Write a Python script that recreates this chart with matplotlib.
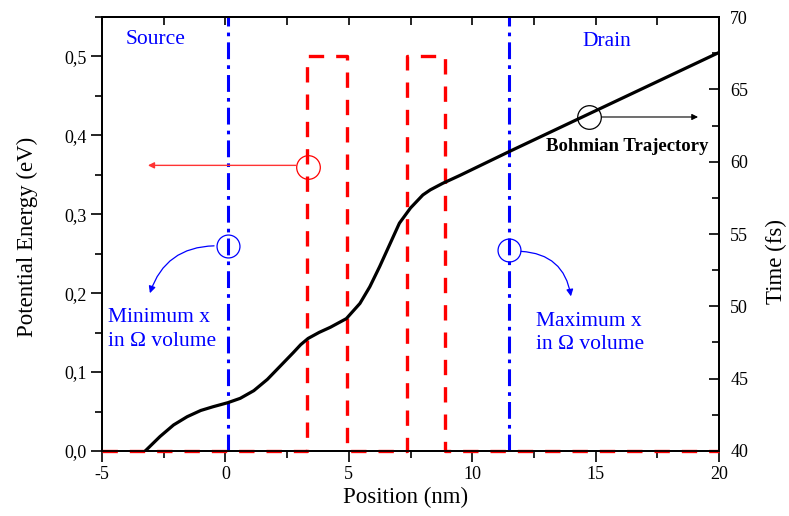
import matplotlib
matplotlib.use("Agg")
import matplotlib.pyplot as plt
from matplotlib.ticker import MultipleLocator, FuncFormatter

plt.rcParams['font.family'] = ['Liberation Serif', 'DejaVu Serif']
plt.rcParams['axes.unicode_minus'] = False

# potential profile (double barrier), eV
pot_x = [-5, 3.3, 3.3, 4.93, 4.93, 7.35, 7.35, 8.9, 8.9, 20]
pot_e = [0, 0, 0.5, 0.5, 0, 0, 0.5, 0.5, 0, 0]

# bohmian trajectory: position (nm) vs time (fs)
traj_x = [-3.25, -2.65, -2.1, -1.55, -1.0, -0.5, 0.1, 0.6, 1.15, 1.7, 2.2,
          2.75, 3.05, 3.35, 3.8, 4.25, 4.9, 5.45, 5.85, 6.25, 6.65, 7.05, 7.5,
          8.0, 8.3, 8.8, 9.5, 11.5, 14.6, 20.0]
traj_t = [40.0, 41.0, 41.8, 42.37, 42.8, 43.06, 43.34, 43.64, 44.17, 44.95, 45.83,
          46.8, 47.35, 47.78, 48.2, 48.55, 49.15, 50.2, 51.35, 52.75, 54.25, 55.75, 56.8,
          57.7, 58.05, 58.5, 59.05, 60.7, 63.2, 67.55]

# limits of the omega volume
x_min_omega = 0.1
x_max_omega = 11.5

fig = plt.figure(figsize=(7.89, 5.16), dpi=100)
ax = fig.add_axes([0.1293, 0.126, 0.782, 0.841])
ax2 = ax.twinx()

ax.plot(pot_x, pot_e, color='#ff0000', lw=2.4, ls=(0, (4.6, 3.6)), zorder=6, clip_on=False)
ax.axvline(x_min_omega, color='#0000ff', lw=2.2, ls=(0, (5.5, 2, 1.2, 2)), zorder=3)
ax.axvline(x_max_omega, color='#0000ff', lw=2.2, ls=(0, (5.5, 2, 1.2, 2)), zorder=3)
ax2.plot(traj_x, traj_t, color='black', lw=2.3, solid_capstyle='round',
         solid_joinstyle='round')

ax.set_xlim(-5, 20)
ax.set_ylim(0, 0.55)
ax2.set_ylim(40, 70)

# ticks
ax.xaxis.set_major_locator(MultipleLocator(5))
ax.xaxis.set_minor_locator(MultipleLocator(2.5))
ax.yaxis.set_major_locator(MultipleLocator(0.1))
ax.yaxis.set_minor_locator(MultipleLocator(0.05))
ax.yaxis.set_major_formatter(FuncFormatter(lambda v, p: ('%.1f' % v).replace('.', ',')))
ax.tick_params(which='major', direction='out', length=8, width=1.2, labelsize=13, pad=3)
ax.tick_params(which='minor', direction='out', length=5, width=1.2)
ax.tick_params(axis='y', right=False)

top = ax.secondary_xaxis('top')
top.xaxis.set_major_locator(MultipleLocator(2.5))
top.tick_params(direction='in', length=6, width=1.2, labeltop=False)

ax2.yaxis.set_major_locator(MultipleLocator(5))
ax2.yaxis.set_minor_locator(MultipleLocator(2.5))
ax2.tick_params(which='major', direction='in', length=7, width=1.2, labelsize=13, pad=8)
ax2.tick_params(which='minor', direction='in', length=5, width=1.2)

for a in (ax, ax2):
    for s in a.spines.values():
        s.set_linewidth(1.3)
top.spines['top'].set_linewidth(1.3)

fig.text(406 / 789, 1 - 497 / 516, 'Position (nm)', fontsize=16.5, ha='center', va='center')
fig.text(27 / 789, 1 - 237 / 516, 'Potential Energy (eV)', fontsize=16.5,
         rotation=90, ha='center', va='center')
fig.text(776 / 789, 1 - 261 / 516, 'Time (fs)', fontsize=16.5,
         rotation=90, ha='center', va='center')

# labels and markers
ax.text(-2.85, 0.521, 'Source', color='#0000ff', fontsize=15.5, ha='center', va='center')
ax.text(15.46, 0.519, 'Drain', color='#0000ff', fontsize=15.5, ha='center', va='center')
ax.text(-4.76, 0.154, 'Minimum x\nin \u03a9 volume', color='#0000ff', fontsize=15.5,
        ha='left', va='center', linespacing=1.3)
ax.text(12.59, 0.150, 'Maximum x\nin \u03a9 volume', color='#0000ff', fontsize=15.5,
        ha='left', va='center', linespacing=1.3)
ax.text(16.27, 0.386, 'Bohmian Trajectory', color='black', fontsize=13.5,
        fontweight='bold', ha='center', va='center')

ax.plot([x_min_omega], [0.26], 'o', ms=16.5, mfc='none', mec='#0000ff', mew=0.9, zorder=5)
ax.plot([x_max_omega], [0.255], 'o', ms=16.5, mfc='none', mec='#0000ff', mew=0.9, zorder=5)
ax.plot([3.33], [0.36], 'o', ms=17, mfc='none', mec='#ff0000', mew=0.9, zorder=5)
ax.plot([14.73], [0.4233], 'o', ms=17, mfc='none', mec='black', mew=0.9, zorder=5)

ax.annotate('', xy=(-3.06, 0.20), xytext=(-0.46, 0.26),
            arrowprops=dict(arrowstyle='-|>', color='#0000ff', lw=0.9,
                            mutation_scale=10, connectionstyle='arc3,rad=0.35',
                            shrinkA=0, shrinkB=0))
ax.annotate('', xy=(14.0, 0.196), xytext=(11.98, 0.253),
            arrowprops=dict(arrowstyle='-|>', color='#0000ff', lw=0.9,
                            mutation_scale=10, connectionstyle='arc3,rad=-0.4',
                            shrinkA=0, shrinkB=0))
ax.annotate('', xy=(-3.14, 0.362), xytext=(2.85, 0.362),
            arrowprops=dict(arrowstyle='-|>', color='#ff3333', lw=1.0,
                            mutation_scale=9, shrinkA=0, shrinkB=0))
ax.annotate('', xy=(19.15, 0.4233), xytext=(15.25, 0.4233),
            arrowprops=dict(arrowstyle='-|>', color='black', lw=0.8,
                            mutation_scale=9, shrinkA=0, shrinkB=0))

fig.savefig('out.png', dpi=100)
